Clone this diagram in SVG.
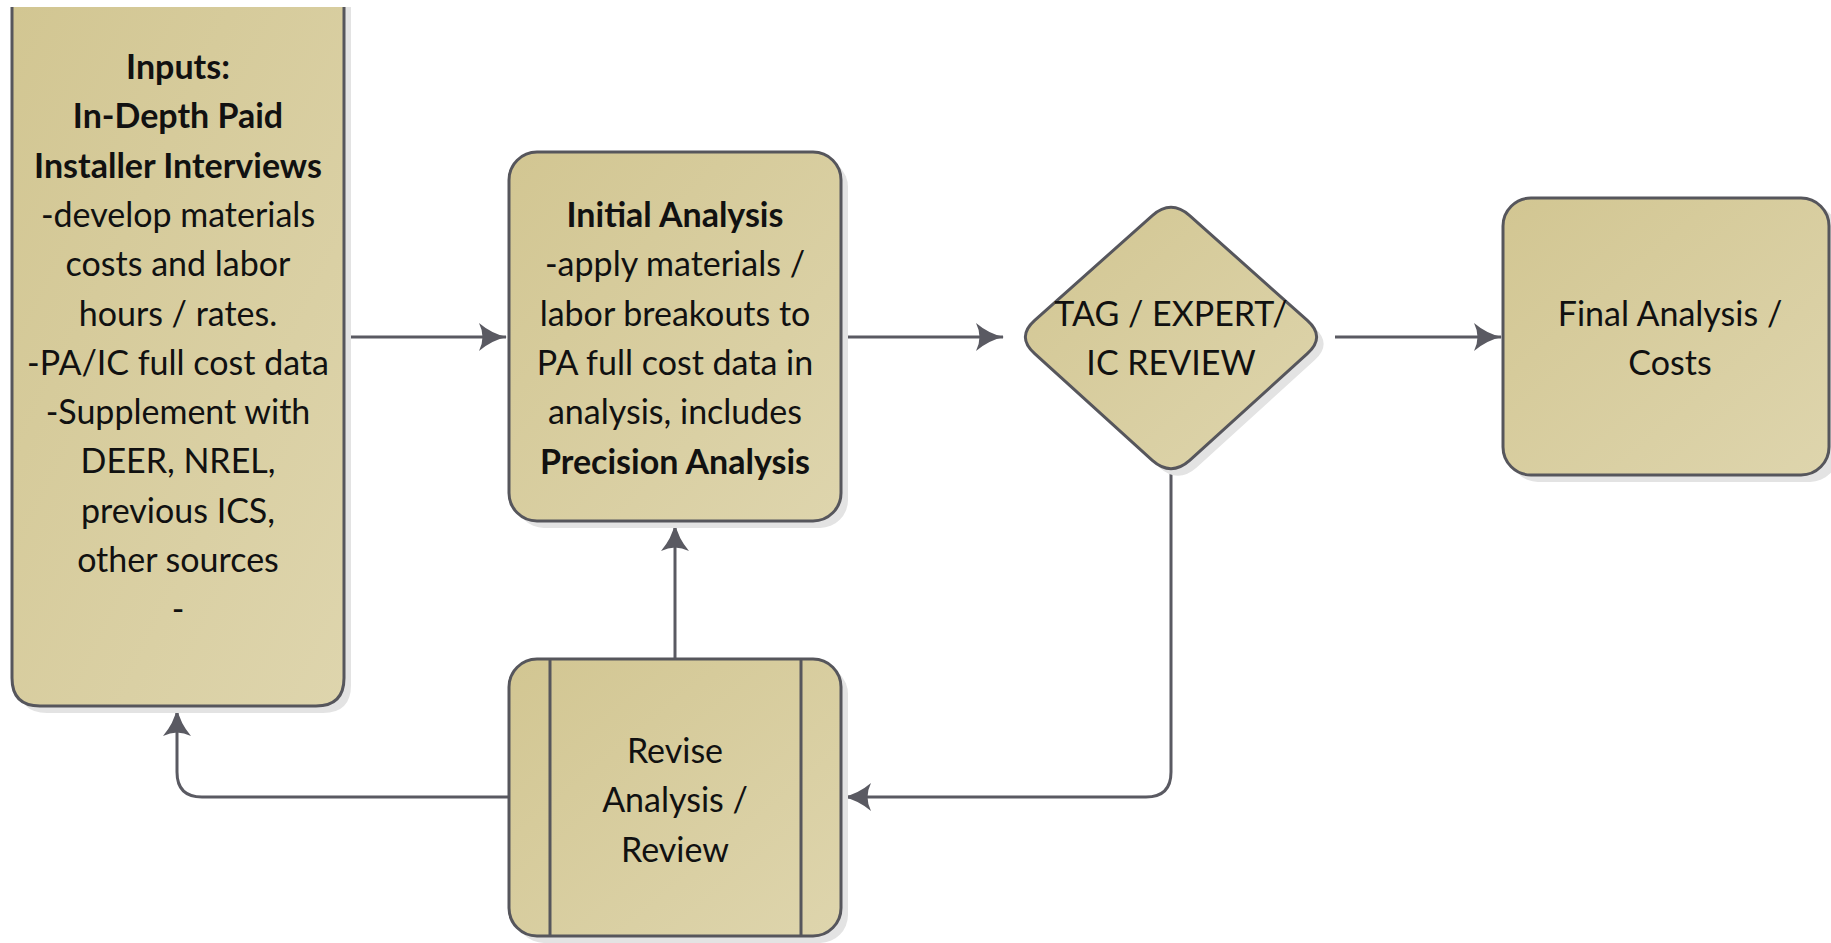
<svg xmlns="http://www.w3.org/2000/svg" width="1831" height="943" viewBox="0 0 1831 943">
<style>
.box{fill:url(#g);stroke:#56565c;stroke-width:3}
.sh{fill:#e3e3e3}
.t{font-family:Lato,"Open Sans",sans-serif;font-size:34px;fill:#111;text-anchor:middle}
.b{font-weight:bold}
.c{fill:none;stroke:#5a5a62;stroke-width:3}
</style>
<defs>
<linearGradient id="g" x1="0" y1="0" x2="1" y2="1">
<stop offset="0" stop-color="#d2c692"/>
<stop offset="1" stop-color="#ded5ad"/>
</linearGradient>
<marker id="a" markerUnits="userSpaceOnUse" markerWidth="32" markerHeight="32" viewBox="-30 -16 32 32" refX="0" refY="0" orient="auto">
<path d="M1,0 Q-14,-3 -27,-14 Q-20,0 -27,14 Q-14,3 1,0 Z" fill="#5a5a62"/>
</marker>
</defs>
<g id="connectors">
<path class="c" d="M344,337 H506" marker-end="url(#a)"/>
<path class="c" d="M841,337 H1003" marker-end="url(#a)"/>
<path class="c" d="M1335,337 H1501" marker-end="url(#a)"/>
<path class="c" d="M1171,470 V772 Q1171,797 1146,797 H844" marker-end="url(#a)"/>
<path class="c" d="M675,659 V524" marker-end="url(#a)"/>
<path class="c" d="M509,797 H202 Q177,797 177,772 V709" marker-end="url(#a)"/>
</g>
<g id="inputs">
<path class="sh" d="M19,7 H351 V685 Q351,713 323,713 H47 Q19,713 19,685 Z"/>
<path d="M12,7 V678 Q12,706 40,706 H316 Q344,706 344,678 V7 Z" fill="url(#g)"/>
<path d="M12,7 V678 Q12,706 40,706 H316 Q344,706 344,678 V7" fill="none" stroke="#56565c" stroke-width="3"/>
<text class="t" x="178" y="79"><tspan class="b">Inputs:</tspan><tspan class="b" x="178" dy="49.3">In-Depth Paid</tspan><tspan class="b" x="178" dy="49.3">Installer Interviews</tspan><tspan x="178" dy="49.3">-develop materials</tspan><tspan x="178" dy="49.3">costs  and labor</tspan><tspan x="178" dy="49.3">hours / rates.</tspan><tspan x="178" dy="49.3">-PA/IC full cost data</tspan><tspan x="178" dy="49.3">-Supplement with</tspan><tspan x="178" dy="49.3">DEER, NREL,</tspan><tspan x="178" dy="49.3">previous ICS,</tspan><tspan x="178" dy="49.3">other sources</tspan><tspan x="178" dy="49.3">-</tspan></text>
</g>
<g id="initial">
<rect class="sh" x="516" y="159" width="332" height="369" rx="28"/>
<rect class="box" x="509" y="152" width="332" height="369" rx="28"/>
<text class="t" x="675" y="227"><tspan class="b">Initial Analysis</tspan><tspan x="675" dy="49.3">-apply materials /</tspan><tspan x="675" dy="49.3">labor breakouts to</tspan><tspan x="675" dy="49.3">PA full cost data in</tspan><tspan x="675" dy="49.3">analysis, includes</tspan><tspan class="b" x="675" dy="49.3">Precision Analysis</tspan></text>
</g>
<g id="review">
<path class="sh" transform="translate(7,7)" d="M1152.3,215.6 Q1171,199 1189.7,215.6 L1307.3,320.4 Q1326,337 1307.3,353.6 L1189.7,460.4 Q1171,477 1152.3,460.4 L1034.7,353.6 Q1016,337 1034.7,320.4 Z"/>
<path class="box" d="M1152.3,215.6 Q1171,199 1189.7,215.6 L1307.3,320.4 Q1326,337 1307.3,353.6 L1189.7,460.4 Q1171,477 1152.3,460.4 L1034.7,353.6 Q1016,337 1034.7,320.4 Z"/>
<text class="t" x="1171" y="326"><tspan>TAG / EXPERT/</tspan><tspan x="1171" dy="49.3">IC REVIEW</tspan></text>
</g>
<g id="final">
<rect class="sh" x="1510" y="205" width="328" height="277" rx="28"/>
<rect class="box" x="1503" y="198" width="326" height="277" rx="28"/>
<text class="t" x="1670" y="326"><tspan>Final Analysis /</tspan><tspan x="1670" dy="49.3">Costs</tspan></text>
</g>
<g id="revise">
<rect class="sh" x="516" y="666" width="332" height="277" rx="28"/>
<rect class="box" x="509" y="659" width="332" height="277" rx="28"/>
<line x1="550" y1="659" x2="550" y2="936" stroke="#56565c" stroke-width="3"/>
<line x1="801" y1="659" x2="801" y2="936" stroke="#56565c" stroke-width="3"/>
<text class="t" x="675" y="763"><tspan>Revise</tspan><tspan x="675" dy="49.3">Analysis /</tspan><tspan x="675" dy="49.3">Review</tspan></text>
</g>
</svg>
